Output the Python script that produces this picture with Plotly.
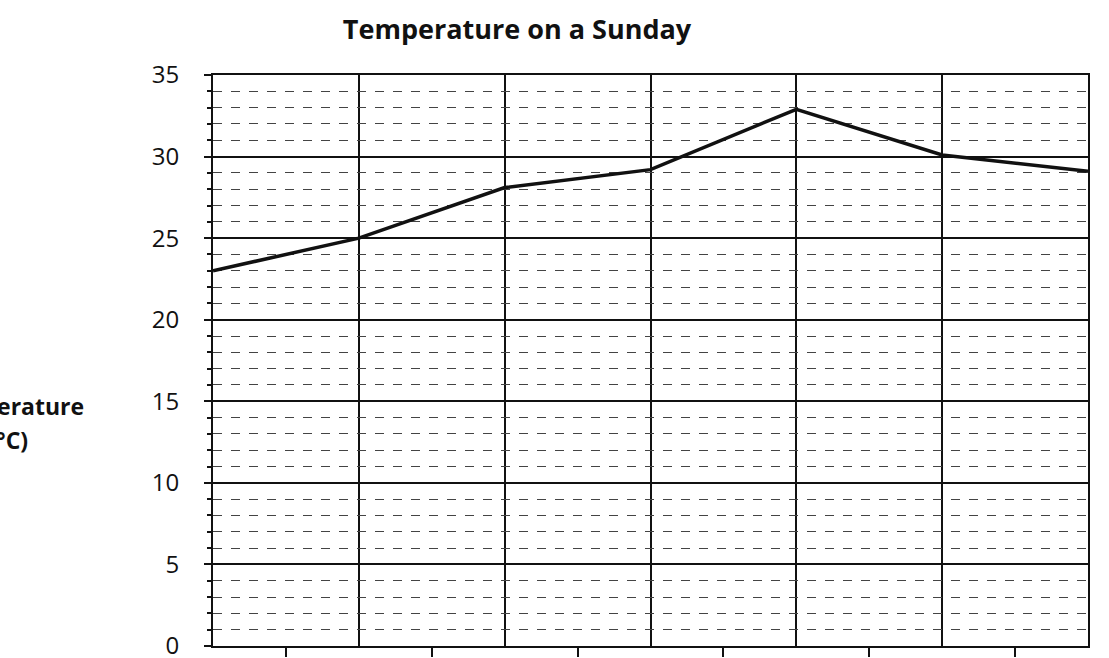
import plotly.graph_objects as go

# Data
reading_index = [0, 1, 2, 3, 4, 5, 6]
temperature_c = [23.0, 25.0, 28.1, 29.2, 32.9, 30.1, 29.1]
title_text = "Temperature on a Sunday"
y_title_lines = ["Temperature", "(°C)"]

fig = go.Figure()
fig.add_trace(go.Scatter(
    x=reading_index, y=temperature_c, mode="lines",
    line=dict(color="#111111", width=3.5), showlegend=False,
))

fig.update_layout(
    width=1109, height=658,
    margin=dict(l=213, r=21, t=75, b=12),
    paper_bgcolor="white", plot_bgcolor="white",
    font=dict(family="Open Sans", color="#111111"),
    title=dict(text="<b>" + title_text + "</b>", x=517 / 1109, xanchor="center",
               y=1 - 30 / 658, yanchor="middle", font=dict(size=27, color="#111111")),
    showlegend=False,
)

fig.update_xaxes(
    range=[0, 6], showline=True, linecolor="#111111", linewidth=2, mirror=True,
    tick0=0.5, dtick=1, ticks="outside", ticklen=9, tickwidth=1.5, tickcolor="#111111",
    showticklabels=False, showgrid=False, zeroline=False, automargin=False,
    minor=dict(tick0=0, dtick=1, showgrid=True, gridcolor="#111111", gridwidth=2, ticks=""),
)

fig.update_yaxes(
    range=[0, 35], showline=True, linecolor="#111111", linewidth=2, mirror=True,
    tick0=0, dtick=5, ticks="outside", ticklen=7, tickwidth=1.5, tickcolor="#111111",
    showgrid=True, gridcolor="#111111", gridwidth=2, zeroline=False, automargin=False,
    ticklabeloverflow="allow",
    tickfont=dict(size=24, color="#111111", family="Open Sans"), ticklabelstandoff=20,
    minor=dict(dtick=1, showgrid=True, gridcolor="#444444", gridwidth=1, griddash="dash",
               ticks="outside", ticklen=4, tickcolor="#111111"),
)

for i, line_text in enumerate(y_title_lines):
    fig.add_annotation(
        text="<b>" + line_text + "</b>", xref="paper", yref="paper",
        x=-205 / 875, y=(646 - (406 + 34 * i)) / 571, xanchor="center", yanchor="middle",
        showarrow=False, font=dict(size=23, color="#111111", family="Open Sans"),
    )

fig.write_html("out.html", config={"displayModeBar": False},
               post_script="document.body.style.margin='0';")
